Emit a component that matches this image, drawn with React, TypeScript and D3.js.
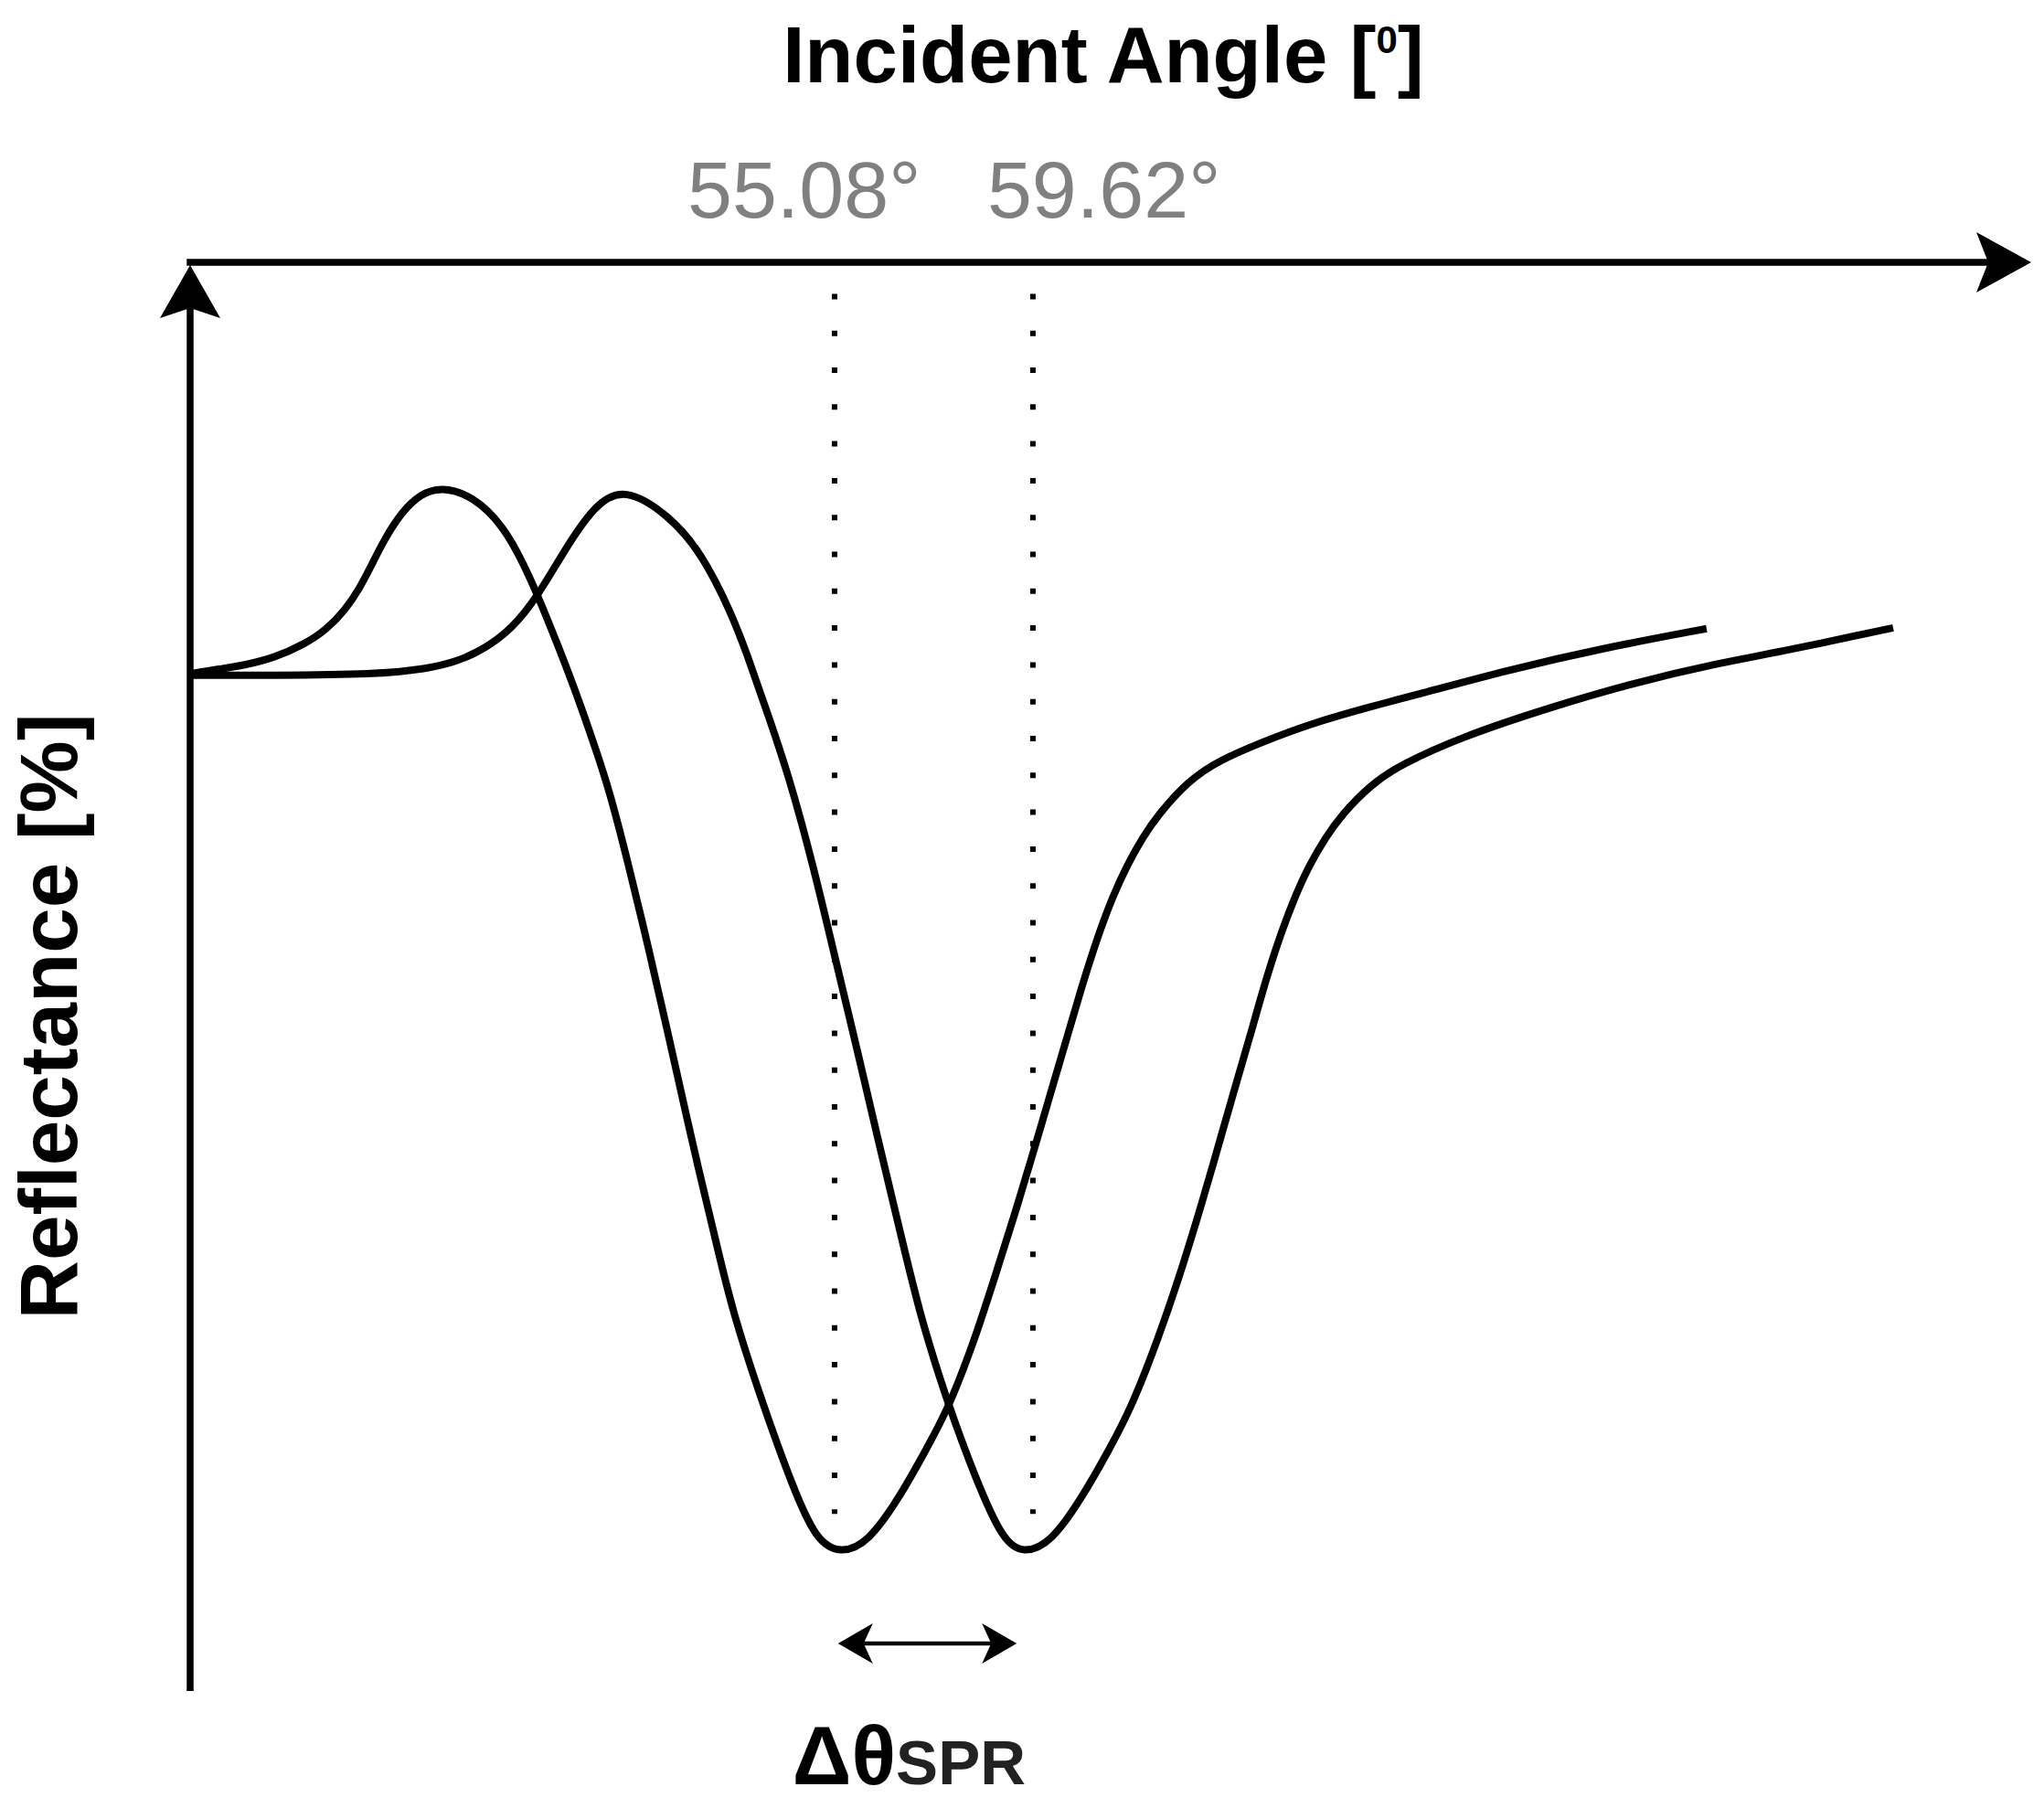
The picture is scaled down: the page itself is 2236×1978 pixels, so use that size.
import React, { useRef, useEffect } from "react";
import * as d3 from "d3";

// SPR curves: incident angle (deg) and reflectance (%)
const angleBefore = [40.37, 41.0, 41.56, 42.25, 42.95, 43.45, 43.87, 44.2, 44.49, 44.77, 45.18, 45.6, 46.08, 46.8, 47.49, 47.97, 48.28, 48.74, 49.22, 49.58, 49.93, 50.35, 50.83, 51.25, 51.61, 51.94, 52.36, 52.74, 53.41, 54.12, 54.66, 55.23, 55.85, 56.55, 57.17, 57.7, 58.3, 58.78, 59.2, 59.56, 60.04, 60.39, 60.73, 61.09, 61.44, 61.78, 62.13, 62.49, 63.18, 63.87, 64.91, 65.96, 67.36, 68.41, 70.5, 72.59, 75.04];
const reflBefore = [71.22, 71.54, 71.79, 72.31, 73.27, 74.29, 75.64, 77.12, 78.85, 80.58, 82.56, 83.78, 84.3, 83.65, 81.6, 78.85, 76.73, 73.27, 69.42, 66.22, 63.01, 58.01, 51.92, 46.28, 41.35, 36.86, 31.54, 26.6, 20.32, 14.29, 10.5, 9.6, 10.4, 13.46, 16.86, 19.87, 24.68, 29.29, 33.33, 36.99, 41.99, 45.64, 49.23, 52.69, 55.58, 57.82, 59.74, 61.35, 63.72, 65.13, 66.47, 67.69, 68.91, 69.74, 71.47, 72.95, 74.36];

const angleAfter = [40.37, 42.25, 44.56, 45.75, 46.44, 47.07, 47.7, 48.28, 48.89, 49.58, 50.27, 51.31, 52.03, 52.72, 53.07, 53.55, 54.03, 54.6, 55.08, 55.65, 56.06, 56.55, 57.05, 57.7, 58.3, 58.93, 59.41, 60.04, 60.73, 61.36, 61.88, 62.49, 62.97, 63.39, 63.74, 64.22, 64.58, 64.91, 65.27, 65.63, 65.96, 66.32, 66.67, 67.36, 68.05, 69.45, 71.19, 73.28, 75.37, 76.78, 79.31];
const reflAfter = [71.09, 71.09, 71.15, 71.54, 72.05, 72.95, 74.36, 76.6, 79.81, 83.01, 84.3, 82.24, 79.68, 75.45, 72.63, 68.4, 64.1, 57.69, 51.47, 44.23, 38.78, 32.56, 26.09, 19.87, 14.94, 10.5, 9.6, 10.4, 13.46, 16.86, 19.87, 24.68, 28.97, 33.14, 36.79, 41.99, 45.71, 49.36, 52.82, 55.71, 57.88, 59.74, 61.28, 63.46, 64.87, 66.79, 68.59, 70.51, 71.99, 72.76, 74.42];

// resonance angles, their labels and the shift arrow span
const resonanceAngles = [55.08, 59.62];
const resonanceLabels = ["55.08°", "59.62°"];
const shiftSpan = [55.16, 59.25];

const xTitle = "Incident Angle [";
const yTitle = "Reflectance [%]";

const W = 2236;
const H = 1978;
const FONT = "'Liberation Sans', Arial, Helvetica, sans-serif";

const App = () => {
    const svgRef = useRef<SVGSVGElement>(null);

    useEffect(() => {
        const svg = d3.select(svgRef.current);
        svg.selectAll("*").remove();

        const x = d3.scaleLinear().domain([40.33, 82.47]).range([208, 2222]);
        const y = d3.scaleLinear().domain([0, 100]).range([1850, 287]);

        svg.append("rect").attr("width", W).attr("height", H).attr("fill", "#fff");

        // axes with arrows
        const x0 = x(40.33);
        const xEnd = x(82.47);
        const yTop = y(100);
        const axisW = 7.5;

        svg.append("line")
            .attr("x1", x0 - axisW / 2).attr("x2", xEnd - 47)
            .attr("y1", yTop).attr("y2", yTop)
            .attr("stroke", "#000").attr("stroke-width", axisW);
        svg.append("path")
            .attr("d", `M${xEnd},${yTop} L${xEnd - 60},${yTop - 33} L${xEnd - 47},${yTop} L${xEnd - 60},${yTop + 33} Z`)
            .attr("fill", "#000");

        svg.append("line")
            .attr("x1", x0).attr("x2", x0)
            .attr("y1", y(0)).attr("y2", yTop + 50)
            .attr("stroke", "#000").attr("stroke-width", axisW);
        svg.append("path")
            .attr("d", `M${x0},${yTop + 3} L${x0 - 33},${yTop + 61} L${x0},${yTop + 50} L${x0 + 33},${yTop + 61} Z`)
            .attr("fill", "#000");

        // dotted resonance markers
        resonanceAngles.forEach((a) => {
            svg.append("line")
                .attr("x1", x(a)).attr("x2", x(a))
                .attr("y1", y(97.8)).attr("y2", y(12.4))
                .attr("stroke", "#000").attr("stroke-width", 6)
                .attr("stroke-dasharray", "6 34.3");
        });

        // curves
        const line = d3
            .line<[number, number]>()
            .x((d) => x(d[0]))
            .y((d) => y(d[1]))
            .curve(d3.curveBasis);

        const before = angleBefore.map((a, i) => [a, reflBefore[i]] as [number, number]);
        const after = angleAfter.map((a, i) => [a, reflAfter[i]] as [number, number]);

        [before, after].forEach((data) => {
            svg.append("path")
                .datum(data)
                .attr("fill", "none")
                .attr("stroke", "#000")
                .attr("stroke-width", 8)
                .attr("stroke-linejoin", "round")
                .attr("d", line);
        });

        // resonance labels
        const labelDx = [-161, -50];
        resonanceLabels.forEach((t, i) => {
            svg.append("text")
                .attr("x", x(resonanceAngles[i]) + labelDx[i])
                .attr("y", 238)
                .attr("font-family", FONT)
                .attr("font-size", 88)
                .attr("fill", "#808080")
                .text(t);
        });

        // shift arrow
        const ay = 1798;
        const l = x(shiftSpan[0]);
        const r = x(shiftSpan[1]);
        svg.append("line")
            .attr("x1", l + 28).attr("x2", r - 28)
            .attr("y1", ay).attr("y2", ay)
            .attr("stroke", "#000").attr("stroke-width", 4.5);
        svg.append("path")
            .attr("d", `M${l},${ay} L${l + 38},${ay - 22} L${l + 28},${ay} L${l + 38},${ay + 22} Z`)
            .attr("fill", "#000");
        svg.append("path")
            .attr("d", `M${r},${ay} L${r - 38},${ay - 22} L${r - 28},${ay} L${r - 38},${ay + 22} Z`)
            .attr("fill", "#000");

        const dt = svg.append("text")
            .attr("x", l - 50)
            .attr("y", 1952)
            .attr("font-family", FONT)
            .attr("font-weight", "bold");
        dt.append("tspan").attr("font-size", 90).attr("fill", "#000").text("Δθ");
        dt.append("tspan").attr("font-size", 69).attr("fill", "#222").text("SPR");

        // titles
        const tt = svg.append("text")
            .attr("x", 1207)
            .attr("y", 90)
            .attr("text-anchor", "middle")
            .attr("font-family", FONT)
            .attr("font-weight", "bold")
            .attr("font-size", 87)
            .attr("fill", "#000");
        tt.append("tspan").text(xTitle);
        tt.append("tspan").attr("font-size", 42).attr("dy", -32).text("0");
        tt.append("tspan").attr("dy", 32).text("]");

        svg.append("text")
            .attr("transform", `translate(84, 1112) rotate(-90)`)
            .attr("text-anchor", "middle")
            .attr("font-family", FONT)
            .attr("font-weight", "bold")
            .attr("font-size", 89)
            .attr("fill", "#000")
            .text(yTitle);
    }, []);

    return (
        <svg
            ref={svgRef}
            width={W}
            height={H}
            style={{ position: "absolute", left: 0, top: 0, display: "block" }}
        ></svg>
    );
};

export default App;
